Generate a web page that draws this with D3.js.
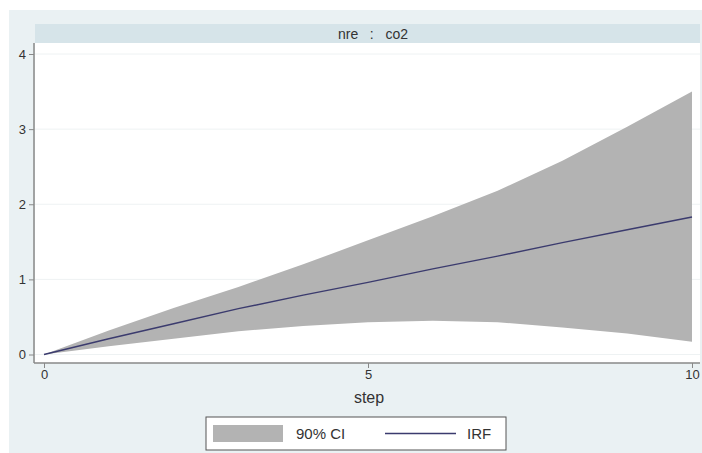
<!DOCTYPE html>
<html>
<head>
<meta charset="utf-8">
<script src="https://cdn.jsdelivr.net/npm/d3@7"></script>
<style>
  html, body { margin: 0; padding: 0; background: #ffffff; }
  svg { display: block; font-family: "Liberation Sans", Arial, sans-serif; }
  .pre { white-space: pre; }
</style>
</head>
<body>
<svg id="chart" width="702" height="453"></svg>
<script>
// Impulse response nre -> co2, with 90% confidence band
const steps = [0, 1, 2, 3, 4, 5, 6, 7, 8, 9, 10];
const irf   = [0, 0.21, 0.41, 0.61, 0.79, 0.96, 1.14, 1.31, 1.49, 1.66, 1.83];
const ciLow = [0, 0.11, 0.21, 0.31, 0.38, 0.43, 0.45, 0.43, 0.36, 0.28, 0.17];
const ciUp  = [0, 0.32, 0.62, 0.90, 1.20, 1.52, 1.84, 2.18, 2.58, 3.03, 3.50];
const xTicks = [0, 5, 10];
const yTicks = [0, 1, 2, 3, 4];
const panelTitle = "nre   :   co2";
const xTitle = "step";
const legendLabels = ["90% CI", "IRF"];

const svg = d3.select("#chart");

// outer graph region
svg.append("rect").attr("x", 9).attr("y", 10).attr("width", 693).attr("height", 443)
  .attr("fill", "#eaf1f3");

const plotL = 35, plotR = 700, plotT = 43, plotB = 363;

// panel title strip
svg.append("rect").attr("x", plotL).attr("y", 24).attr("width", plotR - plotL).attr("height", plotT - 24)
  .attr("fill", "#d6e4e9");
svg.append("text").attr("class", "pre").attr("x", 373).attr("y", 38.5).attr("text-anchor", "middle")
  .attr("font-size", 14).attr("fill", "#333").text(panelTitle);

// plot area
svg.append("rect").attr("x", plotL).attr("y", plotT).attr("width", plotR - plotL).attr("height", plotB - plotT)
  .attr("fill", "#ffffff");

const x = d3.scaleLinear().domain([0, 10]).range([44, 692]);
const y = d3.scaleLinear().domain([0, 4]).range([354.5, 54]);

// horizontal grid
svg.append("g").selectAll("line").data(yTicks).join("line")
  .attr("x1", plotL).attr("x2", plotR)
  .attr("y1", d => y(d)).attr("y2", d => y(d))
  .attr("stroke", "#eef2f3").attr("stroke-width", 1);

const pts = steps.map((s, i) => ({ s, lo: ciLow[i], hi: ciUp[i], v: irf[i] }));

// confidence band
svg.append("path").datum(pts)
  .attr("d", d3.area().x(d => x(d.s)).y0(d => y(d.lo)).y1(d => y(d.hi)))
  .attr("fill", "#b3b3b3");

// IRF line
svg.append("path").datum(pts)
  .attr("d", d3.line().x(d => x(d.s)).y(d => y(d.v)))
  .attr("fill", "none").attr("stroke", "#3b3b6e").attr("stroke-width", 1.4);

// axes
const yAxis = svg.append("g").attr("transform", `translate(${plotL - 1},0)`)
  .call(d3.axisLeft(y).tickValues(yTicks).tickSize(5).tickPadding(3).tickFormat(d3.format("d")));
yAxis.select(".domain").attr("d", `M0,${plotT}V${plotB}`).attr("stroke", "#888").attr("stroke-width", 1.5);
yAxis.selectAll(".tick line").attr("stroke", "#888");
yAxis.selectAll(".tick text").attr("font-size", 13).attr("fill", "#333")
  .attr("font-family", "Liberation Sans, Arial, sans-serif");

const xAxis = svg.append("g").attr("transform", `translate(0,${plotB})`)
  .call(d3.axisBottom(x).tickValues(xTicks).tickSize(5).tickPadding(2).tickFormat(d3.format("d")));
xAxis.select(".domain").attr("d", `M${plotL - 1},0H${plotR}`).attr("stroke", "#888").attr("stroke-width", 1.5);
xAxis.selectAll(".tick line").attr("stroke", "#888");
xAxis.selectAll(".tick text").attr("font-size", 13).attr("fill", "#333")
  .attr("font-family", "Liberation Sans, Arial, sans-serif");

svg.append("text").attr("x", 369).attr("y", 403).attr("text-anchor", "middle")
  .attr("font-size", 16).attr("fill", "#333").text(xTitle);

// legend
const lg = svg.append("g");
lg.append("rect").attr("x", 206).attr("y", 417).attr("width", 300).attr("height", 33)
  .attr("fill", "#ffffff").attr("stroke", "#555").attr("stroke-width", 1);
lg.append("rect").attr("x", 213).attr("y", 425).attr("width", 70).attr("height", 17).attr("fill", "#b3b3b3");
lg.append("text").attr("x", 296).attr("y", 439).attr("font-size", 15).attr("fill", "#333").text(legendLabels[0]);
lg.append("line").attr("x1", 385).attr("x2", 456).attr("y1", 433.5).attr("y2", 433.5)
  .attr("stroke", "#3b3b6e").attr("stroke-width", 1.4);
lg.append("text").attr("x", 467).attr("y", 439).attr("font-size", 15).attr("fill", "#333").text(legendLabels[1]);
</script>
</body>
</html>
